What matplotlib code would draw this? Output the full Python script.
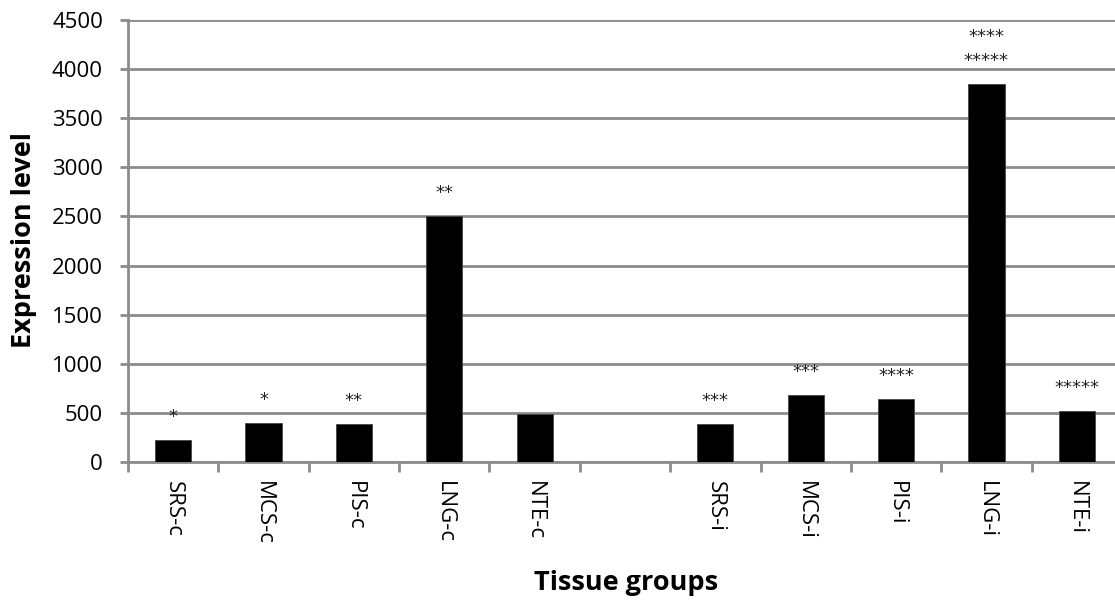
import matplotlib
matplotlib.use("Agg")
import matplotlib.pyplot as plt
import numpy as np

plt.rcParams['font.family'] = ['Open Sans', 'DejaVu Sans']

# Tissue groups: first set (-c), an empty slot, then second set (-i)
labels_c = ["SRS-c", "MCS-c", "PIS-c", "LNG-c", "NTE-c"]
values_c = [225, 400, 385, 2500, 490]
stars_c = [["*"], ["*"], ["**"], ["**"], []]

labels_i = ["SRS-i", "MCS-i", "PIS-i", "LNG-i", "NTE-i"]
values_i = [385, 685, 645, 3850, 520]
stars_i = [["***"], ["***"], ["****"], ["*****", "****"], ["*****"]]

yticks = [0, 500, 1000, 1500, 2000, 2500, 3000, 3500, 4000, 4500]

labels = labels_c + [""] + labels_i
values = values_c + [None] + values_i
stars = stars_c + [[]] + stars_i

W, H = 1115, 602
fig = plt.figure(figsize=(W / 100, H / 100), dpi=100)
ax_h = 462 - 20
ax = fig.add_axes([128 / W, 1 - 462 / H, (1122 - 128) / W, ax_h / H])

grid_c = "#8c8c8c"
x = np.arange(len(labels))
for xi, v in zip(x, values):
    if v is None:
        continue
    ax.bar(xi, v, width=0.4, color="black", edgecolor="#444444", linewidth=0.6, zorder=3)

for xi, v, s in zip(x, values, stars):
    if v is None:
        continue
    for k, txt in enumerate(s):
        ax.annotate(txt, (xi, v), xytext=(0, 13 + 17 * k), textcoords="offset points",
                    ha="center", va="baseline", fontsize=13, color="#222222",
                    family=["DejaVu Sans"], zorder=4)

ax.set_xlim(-0.5, len(labels) - 0.5)
ax.set_ylim(0, 4500)
ax.set_yticks(yticks)
ax.set_yticklabels([str(t) for t in yticks], fontsize=16)
ax.yaxis.grid(True, color=grid_c, linewidth=2, zorder=0)
ax.set_axisbelow(True)

ax.set_xticks(x)
ax.set_xticklabels(labels, rotation=-90, fontsize=16, va="top", ha="center")
ax.tick_params(axis="x", which="major", length=0, pad=14)
ax.set_xticks(np.arange(-0.5, len(labels), 1.0), minor=True)
ax.tick_params(axis="x", which="minor", length=7, width=2, color=grid_c, direction="out")
ax.tick_params(axis="y", length=6, width=2, color=grid_c, direction="out", pad=12)

for side in ["top", "right"]:
    ax.spines[side].set_visible(False)
for side in ["left", "bottom"]:
    ax.spines[side].set_color(grid_c)
    ax.spines[side].set_linewidth(2)

ax.set_ylabel("Expression level", fontsize=19.5, fontweight="bold", va="center")
ax.yaxis.set_label_coords((24 - 128) / (1122 - 128), (462 - 240) / ax_h)
ax.set_xlabel("Tissue groups", fontsize=19.5, fontweight="bold", va="center")
ax.xaxis.set_label_coords((626 - 128) / (1122 - 128), (462 - 583) / ax_h)

fig.savefig("out.png", dpi=100)
